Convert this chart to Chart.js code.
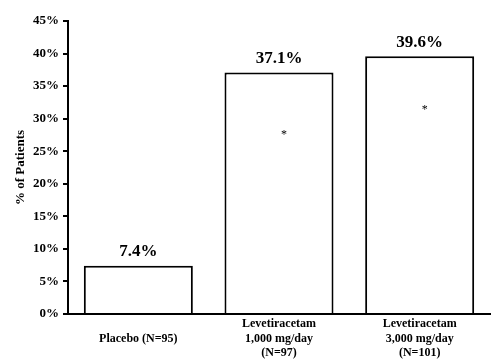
<!DOCTYPE html>
<html>
<head>
<meta charset="utf-8">
<script src="https://cdn.jsdelivr.net/npm/chart.js@4/dist/chart.umd.min.js"></script>
<style>
  html, body { margin: 0; padding: 0; background: #fff; }
  #wrap { width: 502px; height: 364px; }
</style>
</head>
<body>
<div id="wrap"><canvas id="chart"></canvas></div>
<script>
const categories = [
  ["", "Placebo (N=95)"],
  ["Levetiracetam", "1,000 mg/day", "(N=97)"],
  ["Levetiracetam", "3,000 mg/day", "(N=101)"]
];
const percents = [7.4, 37.1, 39.6];
const valueLabels = ["7.4%", "37.1%", "39.6%"];
// where the significance asterisks sit inside the bars (in % units)
const starLevels = [null, 27.8, 31.6];

const serif = "'Liberation Serif', 'Times New Roman', serif";

const barText = {
  id: "barText",
  afterDatasetsDraw(chart) {
    const ctx = chart.ctx;
    const meta = chart.getDatasetMeta(0);
    const y = chart.scales.y;
    ctx.save();
    ctx.fillStyle = "#000";
    ctx.textAlign = "center";
    ctx.textBaseline = "middle";
    meta.data.forEach((bar, i) => {
      ctx.font = "bold 17px " + serif;
      ctx.fillText(valueLabels[i], bar.x, bar.y - 14);
      if (starLevels[i] != null) {
        ctx.font = "12px " + serif;
        ctx.fillText("*", bar.x + 5, y.getPixelForValue(starLevels[i]) + 2);
      }
    });
    ctx.restore();
  }
};

new Chart(document.getElementById("chart"), {
  type: "bar",
  data: {
    labels: categories,
    datasets: [{
      data: percents,
      backgroundColor: "#fff",
      borderColor: "#000",
      borderWidth: 2,
      borderSkipped: "bottom",
      barPercentage: 0.775,
      categoryPercentage: 1
    }]
  },
  options: {
    responsive: true,
    maintainAspectRatio: false,
    animation: false,
    layout: { padding: { top: 21, right: 12, left: 13, bottom: 0 } },
    plugins: { legend: { display: false }, tooltip: { enabled: false } },
    scales: {
      x: {
        grid: { display: true, drawOnChartArea: false, drawTicks: false },
        border: { display: true, color: "#000", width: 2 },
        ticks: {
          color: "#000",
          padding: 3,
          maxRotation: 0,
          autoSkip: false,
          font: { family: serif, size: 12, weight: "bold", lineHeight: 1.2 }
        },
        afterFit(scale) { scale.height = 50; }
      },
      y: {
        min: 0,
        max: 45,
        grid: { drawOnChartArea: false, drawTicks: true, tickLength: 5, color: "#000", lineWidth: 2 },
        border: { display: true, color: "#000", width: 2 },
        ticks: {
          stepSize: 5,
          color: "#000",
          padding: 4,
          font: { family: serif, size: 13, weight: "bold" },
          callback: v => v + "%"
        },
        title: {
          display: true,
          text: "% of Patients",
          color: "#000",
          padding: { top: 0, bottom: 6 },
          font: { family: serif, size: 13, weight: "bold" }
        },
        afterFit(scale) { scale.width = 55; }
      }
    }
  },
  plugins: [barText]
});
</script>
</body>
</html>
